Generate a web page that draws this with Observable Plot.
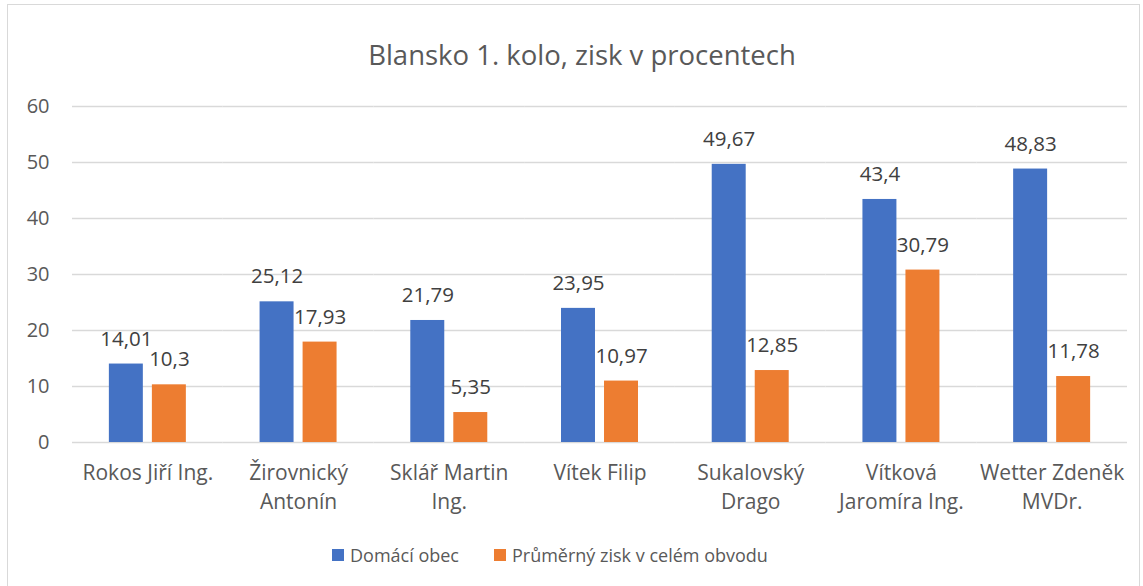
<!DOCTYPE html>
<html>
<head>
<meta charset="utf-8">
<script src="https://cdn.jsdelivr.net/npm/d3@7"></script>
<script src="https://cdn.jsdelivr.net/npm/@observablehq/plot@0.6"></script>
<style>
  html, body { margin: 0; padding: 0; background: #fff; }
  body { width: 1143px; height: 586px; position: relative; overflow: hidden; font-family: 'Open Sans', sans-serif; }
  #frame { position: absolute; left: 7px; top: 4px; width: 1133px; height: 620px; border: 1px solid #d9d9d9; box-sizing: border-box; }
  #title { position: absolute; left: 582px; top: 41px; transform: translateX(-50%); white-space: nowrap; font-size: 27.5px; line-height: 27px; color: #595959; }
  #chart { position: absolute; left: 0; top: 90px; }
  #legend { position: absolute; top: 543px; left: 332px; display: flex; align-items: center; font-size: 18px; line-height: 24px; color: #595959; white-space: nowrap; }
  .sw { display: inline-block; width: 12px; height: 12px; margin-right: 6px; }
  .item { display: flex; align-items: center; }
</style>
</head>
<body>
<div id="frame"></div>
<div id="title">Blansko 1. kolo, zisk v procentech</div>
<div id="chart"></div>
<div id="legend"></div>
<script>
const categories = ["Rokos Jiří Ing.", "Žirovnický\nAntonín", "Sklář Martin\nIng.", "Vítek Filip", "Sukalovský\nDrago", "Vítková\nJaromíra Ing.", "Wetter Zdeněk\nMVDr."];
const series = ["Domácí obec", "Průměrný zisk v celém obvodu"];
const domaci = [14.01, 25.12, 21.79, 23.95, 49.67, 43.4, 48.83];
const prumer = [10.3, 17.93, 5.35, 10.97, 12.85, 30.79, 11.78];
const yTicks = [0, 10, 20, 30, 40, 50, 60];
const colors = ["#4472C4", "#ED7D31"];

const data = [];
categories.forEach((c, i) => {
  data.push({cat: c, series: series[0], value: domaci[i]});
  data.push({cat: c, series: series[1], value: prumer[i]});
});
const fmt = v => String(v).replace(".", ",");

const chart = Plot.plot({
  width: 1143,
  height: 440,
  marginLeft: 72,
  marginRight: 16,
  marginTop: 16,
  marginBottom: 88,
  style: {fontFamily: "'Open Sans', sans-serif", background: "transparent"},
  fx: {domain: categories, padding: 0, round: false, label: null},
  x: {domain: series, paddingInner: 0.21, paddingOuter: 0.857, round: false, axis: null},
  y: {domain: [0, 60], label: null},
  color: {domain: series, range: colors},
  marks: [
    Plot.gridY(yTicks, {stroke: "#d9d9d9", strokeOpacity: 1, strokeWidth: 1.3}),
    Plot.axisY(yTicks, {tickSize: 0, tickPadding: 23, fontSize: 20, fill: "#595959", label: null}),
    Plot.axisFx({anchor: "bottom", tickSize: 0, tickPadding: 18, fontSize: 21, fill: "#595959", lineHeight: 1.34, label: null}),
    Plot.barY(data, {fx: "cat", x: "series", y: "value", fill: "series"}),
    Plot.text(data, {fx: "cat", x: "series", y: "value", text: d => fmt(d.value), dy: -25, fontSize: 20.5, fill: "#404040"})
  ]
});
document.getElementById("chart").appendChild(chart);

const legend = document.getElementById("legend");
series.forEach((s, i) => {
  const item = document.createElement("span");
  item.className = "item";
  if (i > 0) item.style.marginLeft = "35px";
  const sw = document.createElement("span");
  sw.className = "sw";
  sw.style.background = colors[i];
  item.appendChild(sw);
  item.appendChild(document.createTextNode(s));
  legend.appendChild(item);
});
</script>
</body>
</html>
